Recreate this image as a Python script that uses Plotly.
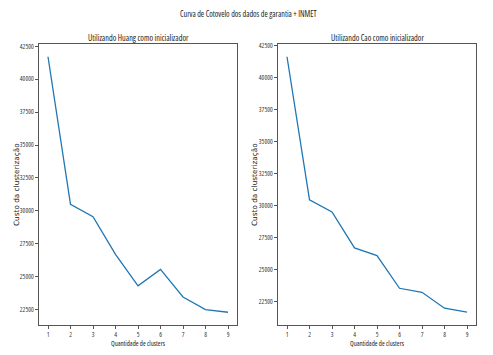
import plotly.graph_objects as go

clusters = [1, 2, 3, 4, 5, 6, 7, 8, 9]
custo_huang = [41700, 30500, 29550, 26700, 24300, 25550, 23460, 22500, 22300]
custo_cao = [41650, 30480, 29530, 26720, 26120, 23570, 23260, 22010, 21700]
y_ticks = [22500, 25000, 27500, 30000, 32500, 35000, 37500, 40000, 42500]

W, H = 493, 355
OFF = 8  # page body margin offset
def px(x):
    return (x - OFF) / W
def py(y):
    return (H - (y - OFF)) / H

COND = "<span style='font-stretch:condensed'>{}</span>"
fig = go.Figure()
fig.add_trace(go.Scatter(x=clusters, y=custo_huang, mode="lines",
                         line=dict(color="#1f77b4", width=1.3), xaxis="x", yaxis="y", showlegend=False))
fig.add_trace(go.Scatter(x=clusters, y=custo_cao, mode="lines",
                         line=dict(color="#1f77b4", width=1.3), xaxis="x2", yaxis="y2", showlegend=False))

tickfont = dict(family="Open Sans, sans-serif", size=6.5, color="#333")
ax_common = dict(showgrid=False, zeroline=False, showline=True, mirror=True, linecolor="#555", linewidth=1,
                 ticks="outside", ticklen=3, tickcolor="#555", tickfont=tickfont, automargin=False)

ydom = [py(325), py(44)]

def yr(vals):
    lo, hi = min(vals), max(vals)
    m = (hi - lo) * 0.05
    return [lo - m, hi + m]

xt = [COND.format(c) for c in clusters]
yt = [COND.format(v) for v in y_ticks]

fig.update_layout(
    width=W, height=H, margin=dict(l=0, r=0, t=0, b=0),
    paper_bgcolor="white", plot_bgcolor="white",
    xaxis=dict(domain=[px(39), px(237)], range=[0.6, 9.4], tickvals=clusters, ticktext=xt, anchor="y", **ax_common),
    yaxis=dict(domain=ydom, range=yr(custo_huang), tickvals=y_ticks, ticktext=yt, anchor="x", **ax_common),
    xaxis2=dict(domain=[px(278), px(476)], range=[0.6, 9.4], tickvals=clusters, ticktext=xt, anchor="y2", **ax_common),
    yaxis2=dict(domain=ydom, range=yr(custo_cao), tickvals=y_ticks, ticktext=yt, anchor="x2", **ax_common),
)

def ann(text, x, y, size=8, angle=0, fam="Open Sans, sans-serif", cond=True):
    fig.add_annotation(text=COND.format(text) if cond else text, x=px(x), y=py(y), xref="paper", yref="paper",
                       showarrow=False, textangle=angle, xanchor="center", yanchor="middle",
                       font=dict(family=fam, size=size, color="#222"))

ann("Curva de Cotovelo dos dados de garantia + INMET", 248, 14, size=8)
ann("Utilizando Huang como inicializador", 138, 37, size=8.2)
ann("Utilizando Cao como inicializador", 377, 37, size=8.2)
ann("Quantidade de clusters", 138, 343, size=6.8)
ann("Quantidade de clusters", 377, 343, size=6.8)
ann("Custo da clusterização", 16, 185, size=7.3, angle=-90, fam="DejaVu Sans, sans-serif", cond=False)
ann("Custo da clusterização", 254, 185, size=7.3, angle=-90, fam="DejaVu Sans, sans-serif", cond=False)

fig.write_html("out.html")
